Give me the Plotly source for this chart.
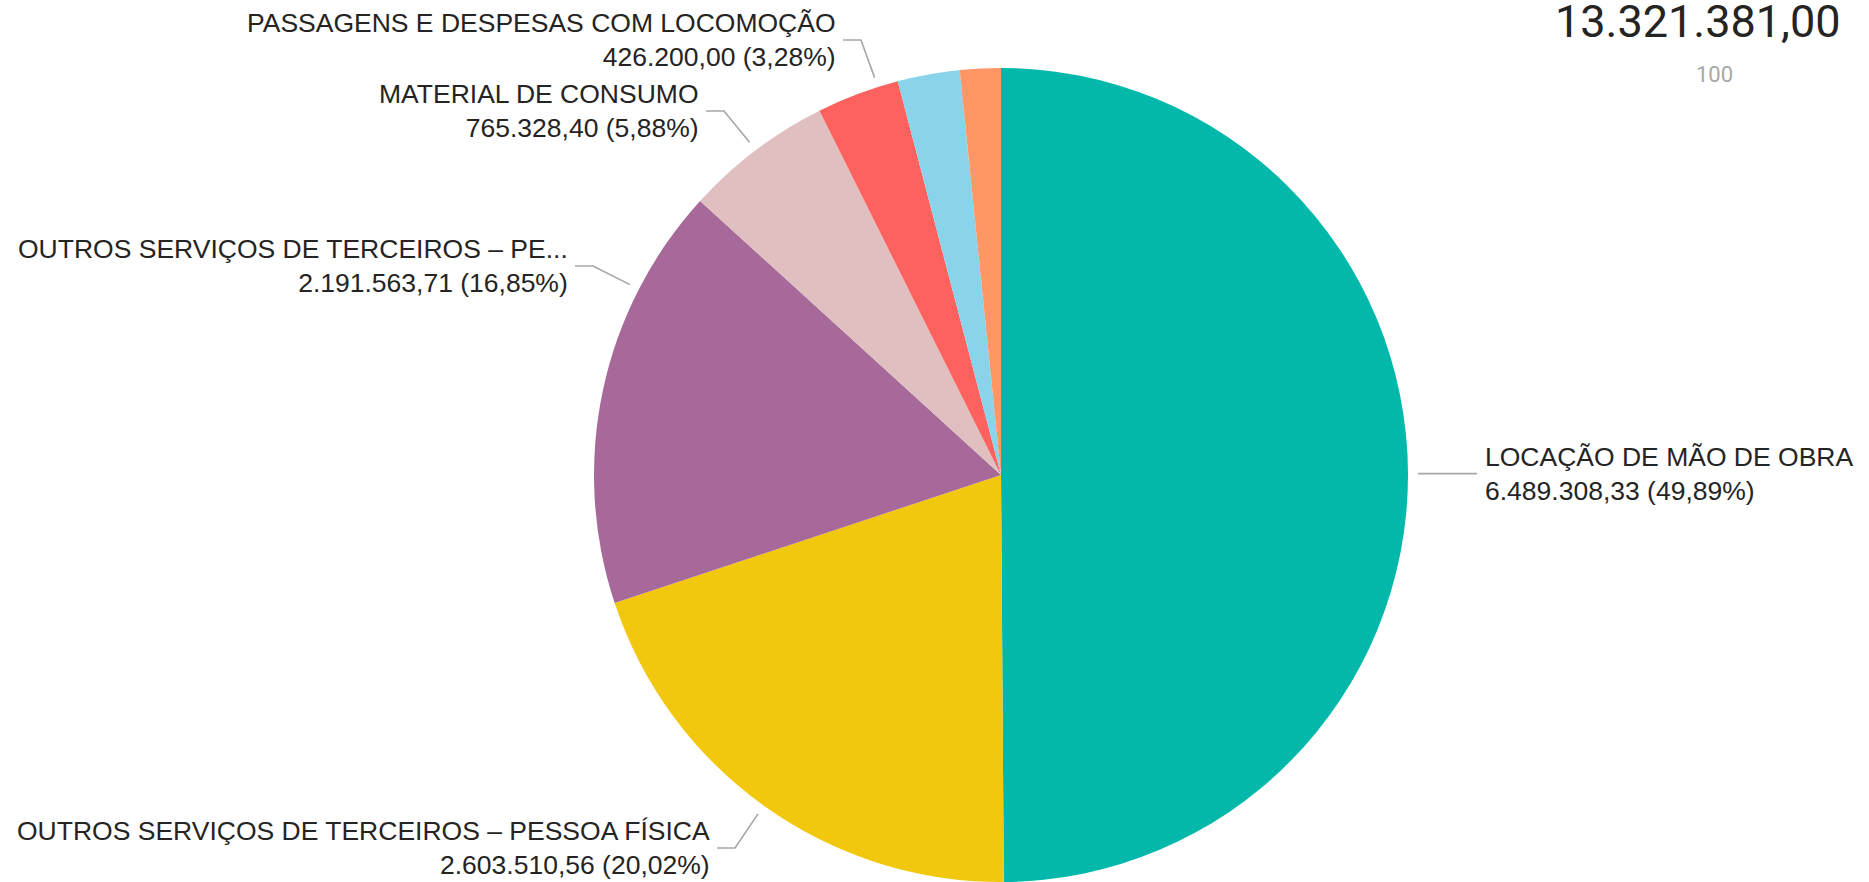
import math
import plotly.graph_objects as go

# ---------------- data ----------------
categories = [
    "LOCAÇÃO DE MÃO DE OBRA",
    "OUTROS SERVIÇOS DE TERCEIROS – PESSOA FÍSICA",
    "OUTROS SERVIÇOS DE TERCEIROS – PESSOA JURÍDICA",
    "MATERIAL DE CONSUMO",
    "PASSAGENS E DESPESAS COM LOCOMOÇÃO",
    "DIÁRIAS",
    "OUTROS",
]
values = [6489308.33, 2603510.56, 2191563.71, 765328.40, 426200.00, 320500.00, 210489.01]
colors = ["#01B8AA", "#F2C80F", "#A66999", "#DFBFBF", "#FD625E", "#8AD4EB", "#FE9666"]
display_names = [
    "LOCAÇÃO DE MÃO DE OBRA",
    "OUTROS SERVIÇOS DE TERCEIROS – PESSOA FÍSICA",
    "OUTROS SERVIÇOS DE TERCEIROS – PE...",
    "MATERIAL DE CONSUMO",
    "PASSAGENS E DESPESAS COM LOCOMOÇÃO",
    None,
    None,
]
card_value = 13321381.00
card_sub = "100"

# ---------------- layout constants ----------------
W, H = 1869, 882
CX, CY, R = 1001, 475, 407
# label placement: (side, text edge x px, block center y px, leader anchor fraction within slice)
label_pos = [
    ("right", 1483, 474, 0.5),
    ("left", 712, 848, 0.5),
    ("left", 570, 266, 0.75),
    ("left", 701, 111, 0.5),
    ("left", 838, 40, 0.75),
    None,
    None,
]
TEXT_COLOR = "#252423"
LINE_COLOR = "#A6A6A6"
FONT = "Liberation Sans, Arial, sans-serif"


def fmt_br(v, dec=2):
    s = f"{v:,.{dec}f}"
    return s.replace(",", "X").replace(".", ",").replace("X", ".")


def px(x):
    return x / W


def py(y):
    return 1 - y / H


total = sum(values)

fig = go.Figure(
    go.Pie(
        labels=categories,
        values=values,
        sort=False,
        direction="clockwise",
        rotation=0,
        textinfo="none",
        hoverinfo="label+value+percent",
        marker=dict(colors=colors, line=dict(width=0)),
        domain=dict(x=[(CX - R) / W, (CX + R) / W], y=[py(CY + R), py(CY - R)]),
        showlegend=False,
    )
)

annotations = []
shapes = []
cum = 0.0
for i, v in enumerate(values):
    frac = v / total
    pos = label_pos[i]
    if pos is not None and display_names[i]:
        side, tx, ty, af = pos
        ang = 2 * math.pi * (cum + frac * af)
        ex = CX + (R + 10) * math.sin(ang)
        ey = CY - (R + 10) * math.cos(ang)
        pct = fmt_br(frac * 100, 2)
        text = f"{display_names[i]}<br>{fmt_br(v)} ({pct}%)"
        annotations.append(
            dict(
                x=px(tx), y=py(ty), xref="paper", yref="paper",
                xanchor="left" if side == "right" else "right",
                yanchor="middle",
                align="left" if side == "right" else "right",
                text=text, showarrow=False,
                font=dict(family=FONT, size=26.5, color=TEXT_COLOR),
            )
        )
        if side == "right":
            path = f"M {px(ex)} {py(ey)} L {px(tx - 6)} {py(ey)}"
        else:
            x0 = tx + 5
            x1 = tx + 23
            path = f"M {px(x0)} {py(ty)} L {px(x1)} {py(ty)} L {px(ex)} {py(ey)}"
        shapes.append(
            dict(type="path", path=path, xref="paper", yref="paper",
                 line=dict(color=LINE_COLOR, width=1.6))
        )
    cum += frac

# card in the top right
annotations.append(
    dict(x=px(1843), y=py(22), xref="paper", yref="paper", xanchor="right", yanchor="middle",
         text=fmt_br(card_value), showarrow=False,
         font=dict(family="Roboto, sans-serif", size=45, color="#252423"))
)
annotations.append(
    dict(x=px(1714), y=py(74), xref="paper", yref="paper", xanchor="center", yanchor="middle",
         text=card_sub, showarrow=False,
         font=dict(family="Roboto, sans-serif", size=22, color="#A8A8A8"))
)

fig.update_layout(
    width=W, height=H,
    margin=dict(l=0, r=0, t=0, b=0),
    paper_bgcolor="white", plot_bgcolor="white",
    annotations=annotations, shapes=shapes,
)

fig.write_html(
    "out.html",
    config={"displayModeBar": False},
    post_script="document.body.style.margin='0';document.body.style.overflow='hidden';",
)
